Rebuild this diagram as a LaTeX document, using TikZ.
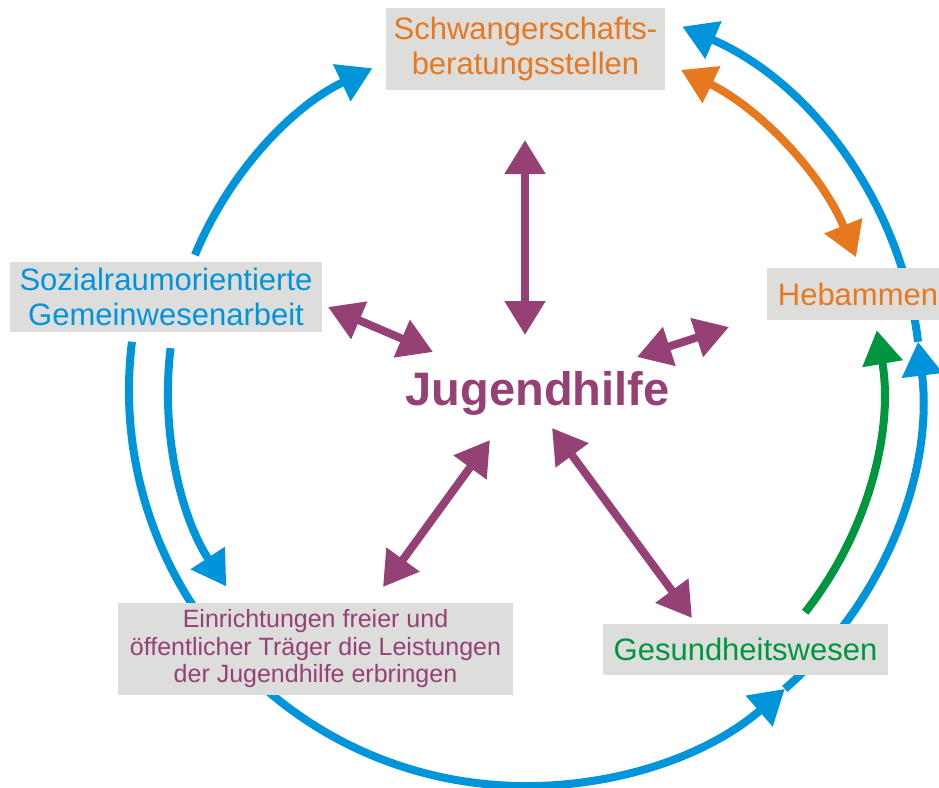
\documentclass[tikz,border=0pt]{standalone}
\usepackage{fontspec}
\setmainfont{Liberation Sans}
\usetikzlibrary{arrows.meta}
\definecolor{cblue}{RGB}{0,149,218}
\definecolor{corange}{RGB}{232,120,30}
\definecolor{cpurple}{RGB}{150,65,118}
\definecolor{cgreen}{RGB}{0,150,64}
\definecolor{cbox}{RGB}{221,221,220}
\begin{document}
\begin{tikzpicture}[x=1pt,y=-1pt,
  conn/.style={line width=8pt,-{Triangle[length=34pt,width=39pt]}},
  bconn/.style={line width=8pt,{Triangle[length=34pt,width=39pt]}-{Triangle[length=34pt,width=39pt]}},
  gbox/.style={fill=cbox,inner sep=0pt,align=center},
  bigtxt/.style={font=\fontsize{31}{35}\selectfont},
  smalltxt/.style={font=\fontsize{25}{27.5}\selectfont}]
\useasboundingbox (0,0) rectangle (939,787);
% circle centre (525,391)
% outer ring r=395
\coordinate (o1) at ({525+396*cos(187)},{390+396*sin(187)});
\coordinate (o2) at ({525+396*cos(49)},{390+396*sin(49)});
\coordinate (o3) at ({525+396*cos(-7)},{390+396*sin(-7)});
% inner ring r=357
\coordinate (u1) at ({525+357*cos(202.4)},{391+357*sin(202.4)});
\coordinate (l1) at ({525+357*cos(186.9)},{391+357*sin(186.9)});
\coordinate (or1) at ({525+357*cos(-64.1)},{391+357*sin(-64.1)});
\coordinate (g1) at ({525+357*cos(38.3)},{391+357*sin(38.3)});

\draw[conn,cblue] (o1) arc[start angle=187,end angle=49,radius=396];
\draw[conn,cblue] (o2) arc[start angle=49,end angle=-7,radius=396];
\draw[conn,cblue] (o3) arc[start angle=-7,end angle=-66.6,radius=396];
\draw[conn,cblue] (u1) arc[start angle=202.4,end angle=244.7,radius=357];
\draw[conn,cblue] (l1) arc[start angle=186.9,end angle=146.8,radius=357];
\draw[bconn,corange] (or1) arc[start angle=-64.1,end angle=-22,radius=357];
\draw[conn,cgreen] (g1) arc[start angle=38.3,end angle=-9.8,radius=357];

\node[gbox,bigtxt,text=corange,minimum width=279pt,minimum height=82pt] (schw) at (525.5,49) {Schwangerschafts-\\beratungsstellen};
\node[gbox,bigtxt,text=corange,minimum width=182pt,minimum height=52pt] (heb) at (858,294) {Hebammen};
\node[gbox,bigtxt,text=cblue,minimum width=312pt,minimum height=70pt] (sozi) at (166,297) {Sozialraumorientierte\\Gemeinwesenarbeit};
\node[gbox,smalltxt,text=cpurple,minimum width=395pt,minimum height=92pt] (einr) at (315.5,649) {Einrichtungen freier und\\öffentlicher Träger die Leistungen\\der Jugendhilfe erbringen};
\node[gbox,bigtxt,text=cgreen,minimum width=285pt,minimum height=51pt] (ges) at (745.5,649.5) {Gesundheitswesen};
\node[font=\bfseries\fontsize{47}{50}\selectfont,text=cpurple,anchor=base,inner sep=0pt] (jug) at (537.5,405) {Jugendhilfe};

\coordinate (p1a) at (525,140); \coordinate (p1b) at (525,335);
\coordinate (p2a) at (328,307); \coordinate (p2b) at (433,352);
\coordinate (p3a) at (637,357); \coordinate (p3b) at (729,327);
\coordinate (p4a) at (490,440); \coordinate (p4b) at (383,587);
\coordinate (p5a) at (552,428); \coordinate (p5b) at (692,618);
\draw[bconn,cpurple] (p1a) -- (p1b);
\draw[bconn,cpurple] (p2a) -- (p2b);
\draw[bconn,cpurple] (p3a) -- (p3b);
\draw[bconn,cpurple] (p4a) -- (p4b);
\draw[bconn,cpurple] (p5a) -- (p5b);
\end{tikzpicture}
\end{document}
